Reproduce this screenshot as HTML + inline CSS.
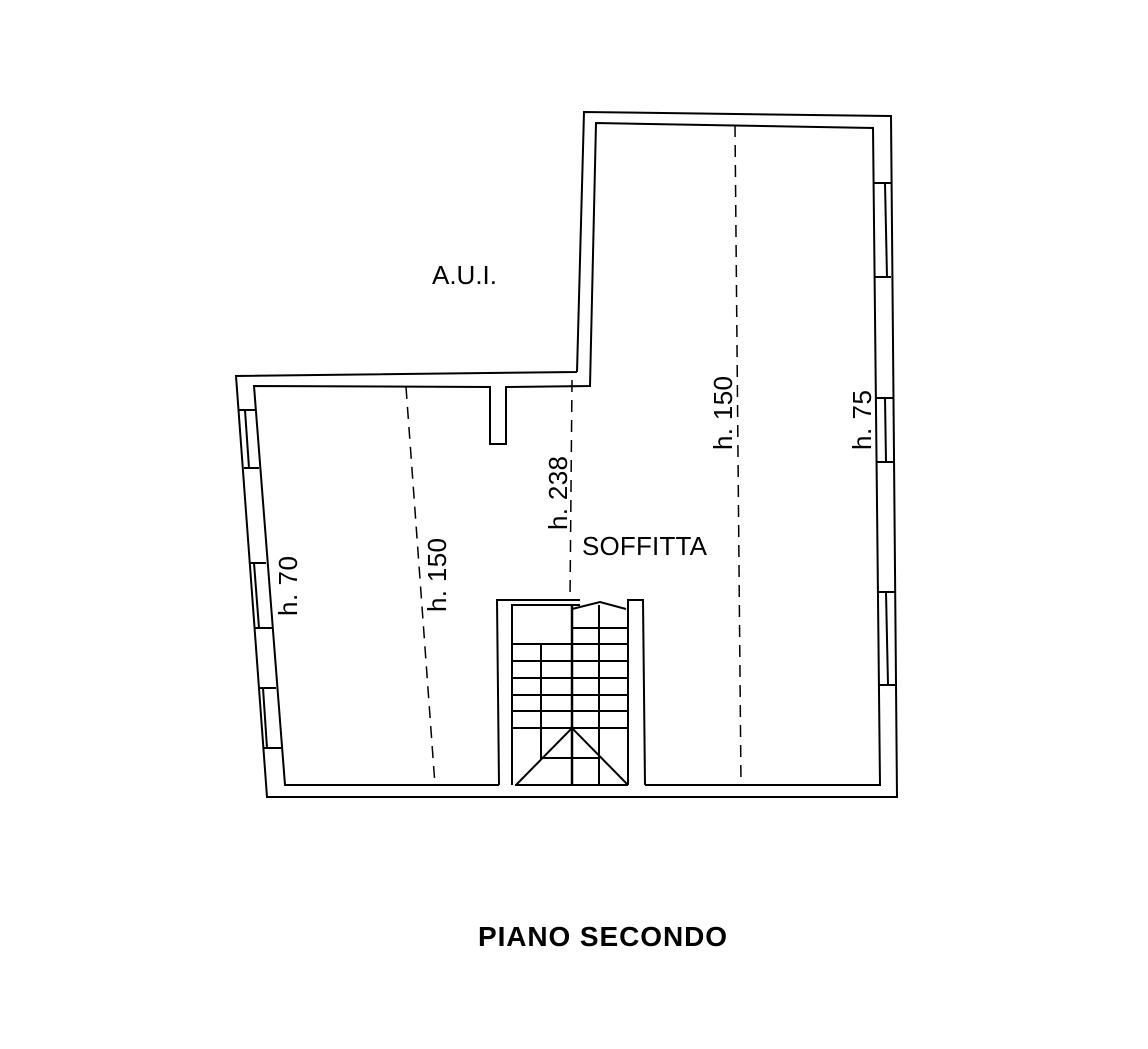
<!DOCTYPE html><html><head><style>body{margin:0;background:#fff}svg{display:block}</style></head><body>
<svg width="1148" height="1049" viewBox="0 0 1148 1049" xmlns="http://www.w3.org/2000/svg">
<g stroke="#000" stroke-width="2" fill="none">
<polyline points="577,372 584,112 891,116 897,797 267,797 236,376 577,372"/>
<polyline points="499,785 285,785 254,386 490,387 490,444 506,444 506,387 590,386 596,123 873,128 880,785 645,785"/>
<line x1="885" y1="183" x2="887" y2="277"/><line x1="873" y1="183" x2="891" y2="183"/><line x1="874" y1="277" x2="891" y2="277"/>
<line x1="885" y1="398" x2="886" y2="462"/><line x1="876" y1="398" x2="893" y2="398"/><line x1="876" y1="462" x2="893" y2="462"/>
<line x1="886" y1="592" x2="888" y2="685"/><line x1="878" y1="592" x2="895" y2="592"/><line x1="879" y1="685" x2="896" y2="685"/>
<line x1="245" y1="410" x2="249" y2="468"/><line x1="239" y1="410" x2="255" y2="410"/><line x1="244" y1="468" x2="259" y2="468"/>
<line x1="254" y1="563" x2="259" y2="628"/><line x1="249" y1="563" x2="266" y2="563"/><line x1="254" y1="628" x2="272" y2="628"/>
<line x1="263" y1="688" x2="267" y2="748"/><line x1="258" y1="688" x2="276" y2="688"/><line x1="263" y1="748" x2="281" y2="748"/>
<polyline points="499,785 497,600 580,600"/>
<polyline points="512,785 512,605 580,605"/>
<polyline points="628,785 628,600 643,600 645,785"/>
<line x1="515" y1="785" x2="628" y2="785"/>
<line x1="572" y1="605" x2="572" y2="785" stroke-width="2.5"/>
<line x1="599" y1="605" x2="599" y2="785"/>
<line x1="541" y1="644" x2="541" y2="760"/>
<polyline points="572,609 600,602 626,609"/>
<line x1="572" y1="628" x2="628" y2="628"/>
<line x1="512" y1="644" x2="628" y2="644"/>
<line x1="512" y1="661" x2="628" y2="661"/>
<line x1="512" y1="678" x2="628" y2="678"/>
<line x1="512" y1="695" x2="628" y2="695"/>
<line x1="512" y1="711" x2="628" y2="711"/>
<line x1="512" y1="728" x2="628" y2="728"/>
<line x1="541" y1="758" x2="600" y2="758"/>
<polyline points="516,785 572,728 628,785"/>
</g>
<g stroke="#000" stroke-width="1.5" fill="none" stroke-dasharray="12,8">
<line x1="406" y1="387" x2="435" y2="785"/>
<line x1="572" y1="380" x2="570" y2="600"/>
<line x1="735" y1="125" x2="741" y2="785"/>
</g>
<g font-family="Liberation Sans, sans-serif" font-size="26" fill="#000">
<text x="432" y="284" textLength="65">A.U.I.</text>
<text x="582" y="555" textLength="125">SOFFITTA</text>
<text transform="translate(297,616) rotate(-90)" textLength="60">h. 70</text>
<text transform="translate(446,612) rotate(-90)" textLength="74">h. 150</text>
<text transform="translate(567,530) rotate(-90)" textLength="74">h. 238</text>
<text transform="translate(732,450) rotate(-90)" textLength="74">h. 150</text>
<text transform="translate(871,450) rotate(-90)" textLength="60">h. 75</text>
<text x="478" y="946" font-weight="bold" font-size="28" textLength="249">PIANO SECONDO</text>
</g>
</svg></body></html>
